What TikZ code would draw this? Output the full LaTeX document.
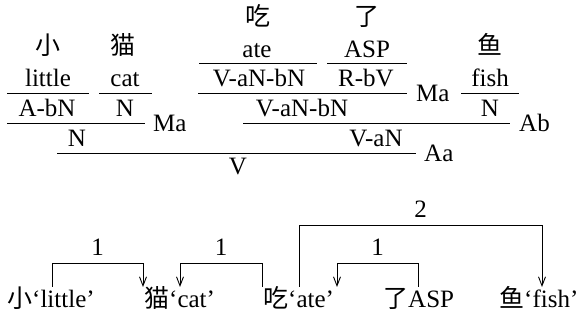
\documentclass[tikz,border=0pt]{standalone}
\usepackage{fontspec}
\setmainfont{Liberation Serif}
\newfontfamily\cjk{Noto Sans CJK SC}
\usetikzlibrary{arrows.meta}

\begin{document}
\begin{tikzpicture}[
        %Environment Config
        x=1pt, y=1pt,
        font=\fontsize{25}{30}\selectfont,
        Word/.style={%Style for words and categories
            inner sep=0pt,
            anchor=base
        },
        Comb/.style={%Style for the combinator names
            inner sep=0pt,
            anchor=base west
        },
        Rule/.style={%Style for the derivation lines
            line width=0.9pt
        },
        Dep/.style={%Style for the dependency arcs
            -{Straight Barb[length=9pt,width=7pt]},
            line width=0.9pt
        },
        DepLab/.style={%Style for the arc numbers
            inner sep=0pt,
            anchor=base,
            yshift=7pt
        }
    ]
    \def\MyRule(#1,#2,#3)#4{%customized derivation line
        \coordinate (#4 L) at (#1,#3);
        \coordinate (#4 R) at (#2,#3);
        \draw[Rule] (#4 L) -- (#4 R);
    }
    \useasboundingbox (0,0) rectangle (579,-320);

    %%%%%%%%%%%%%%%%%%%%%%%%%%%%%%%%%%%%%%%%%%%%%%%%%%%%%%%%%%%%%%%%%%%%%%%%%%%%
    % DERIVATION
    %%%%%%%%%%%%%%%%%%%%%%%%%%%%%%%%%%%%%%%%%%%%%%%%%%%%%%%%%%%%%%%%%%%%%%%%%%%%
    % lexical items
    \node[Word] (CHI) at (258,-26) {\cjk 吃};
    \node[Word] (LE) at (367,-26) {\cjk 了};
    \node[Word] (XIAO) at (48,-55) {\cjk 小};
    \node[Word] (MAO) at (123,-55) {\cjk 猫};
    \node[Word] (YU) at (490,-55) {\cjk 鱼};
    \node[Word] (ATE) at (257,-58) {ate};
    \node[Word] (ASP) at (367,-58) {ASP};
    \MyRule(199,317,-63){ATE}
    \MyRule(327,407,-63){ASP}
    \node[Word] (LITTLE) at (48,-87) {little};
    \node[Word] (CAT) at (125,-87) {cat};
    \node[Word] (FISH) at (490,-87) {fish};
    \node[Word] (VANBN1) at (259,-87) {V-aN-bN};
    \node[Word] (RBV) at (366,-87) {R-bV};
    \MyRule(7,89,-93){LITTLE}
    \MyRule(99,152,-93){CAT}
    \MyRule(461,519,-93){FISH}

    % combinations
    \MyRule(198,407,-93){MA1}
    \node[Comb] (MA1) at ([xshift=9pt,yshift=-9pt]MA1 R) {Ma};
    \node[Word] (ABN) at (47,-117) {A-bN};
    \node[Word] (N1) at (125,-117) {N};
    \node[Word] (VANBN2) at (302,-117) {V-aN-bN};
    \node[Word] (N2) at (490,-117) {N};
    \MyRule(7,145,-123){MA2}
    \node[Comb] (MA2) at ([xshift=8pt,yshift=-9pt]MA2 R) {Ma};
    \MyRule(243,510,-123){AB}
    \node[Comb] (AB) at ([xshift=9pt,yshift=-9pt]AB R) {Ab};
    \node[Word] (N3) at (77,-147) {N};
    \node[Word] (VAN) at (376,-147) {V-aN};
    \MyRule(57,416,-153){AA}
    \node[Comb] (AA) at ([xshift=8pt,yshift=-9pt]AA R) {Aa};
    \node[Word] (V) at (238,-175) {V};

    %%%%%%%%%%%%%%%%%%%%%%%%%%%%%%%%%%%%%%%%%%%%%%%%%%%%%%%%%%%%%%%%%%%%%%%%%%%%
    % DEPENDENCIES
    %%%%%%%%%%%%%%%%%%%%%%%%%%%%%%%%%%%%%%%%%%%%%%%%%%%%%%%%%%%%%%%%%%%%%%%%%%%%
    \node[Word, anchor=base west] (W1) at (7,-308) {{\cjk 小}‘little’};
    \node[Word, anchor=base west] (W2) at (144,-308) {{\cjk 猫}‘cat’};
    \node[Word, anchor=base west] (W3) at (263,-308) {{\cjk 吃}‘ate’};
    \node[Word, anchor=base west] (W4) at (383,-308) {{\cjk 了}ASP};
    \node[Word, anchor=base west] (W5) at (499,-308) {{\cjk 鱼}‘fish’};

    % arc ends
    \coordinate (D1 s) at (52,-287);
    \coordinate (D1 t) at (143,-287);
    \coordinate (D2 s) at (262,-287);
    \coordinate (D2 t) at (180,-287);
    \coordinate (D3 s) at (299,-287);
    \coordinate (D3 t) at (542,-287);
    \coordinate (D4 s) at (418,-287);
    \coordinate (D4 t) at (337,-287);

    \draw[Dep] (D1 s) -- ++(0,24) -| (D1 t) node[DepLab, pos=0.25] {1};
    \draw[Dep] (D2 s) -- ++(0,24) -| (D2 t) node[DepLab, pos=0.25] {1};
    \draw[Dep] (D3 s) -- ++(0,62) -| (D3 t) node[DepLab, pos=0.25] {2};
    \draw[Dep] (D4 s) -- ++(0,24) -| (D4 t) node[DepLab, pos=0.25] {1};
\end{tikzpicture}
\end{document}
